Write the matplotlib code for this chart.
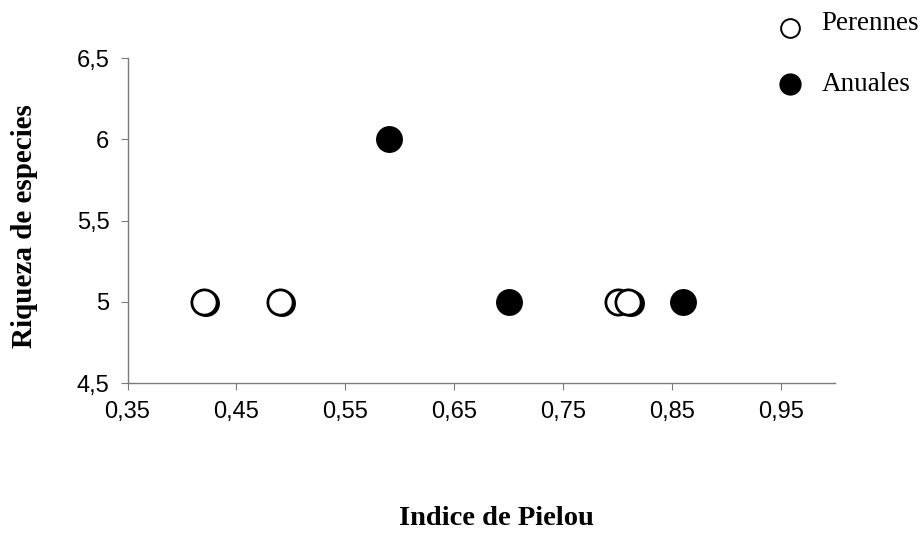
import matplotlib.pyplot as plt

# Pielou evenness vs. species richness, per life form
perennes_x = [0.42, 0.49, 0.80, 0.81]
perennes_y = [5, 5, 5, 5]
anuales_x = [0.422, 0.492, 0.59, 0.70, 0.812, 0.86]
anuales_y = [4.99, 4.99, 6, 5, 4.99, 5]

x_ticks = [0.35, 0.45, 0.55, 0.65, 0.75, 0.85, 0.95]
y_ticks = [4.5, 5, 5.5, 6, 6.5]


def fmt(v):
    s = f"{v:g}"
    return s.replace(".", ",")


fig = plt.figure(figsize=(9.24, 5.33), dpi=100)
ax = fig.add_axes([0.138, 0.2814, 0.766, 0.6096])

ax.scatter(anuales_x, anuales_y, s=330, c="black", edgecolors="black",
           linewidths=1.2, zorder=2)
ax.scatter(perennes_x, perennes_y, s=330, c="white", edgecolors="black",
           linewidths=2.0, zorder=3)

ax.set_xlim(0.35, 1.0)
ax.set_ylim(4.5, 6.5)
ax.set_xticks(x_ticks)
ax.set_yticks(y_ticks)
ax.set_xticklabels([fmt(v) for v in x_ticks], fontsize=17, family="Liberation Sans")
ax.set_yticklabels([fmt(v) for v in y_ticks], fontsize=17, family="Liberation Sans")

for side in ["top", "right"]:
    ax.spines[side].set_visible(False)
for side in ["left", "bottom"]:
    ax.spines[side].set_color("#7a7a7a")
    ax.spines[side].set_linewidth(1.0)
ax.tick_params(axis="both", direction="out", length=5, width=0.8,
               color="#7a7a7a")
ax.tick_params(axis="y", pad=8)
ax.tick_params(axis="x", pad=8)

fig.text(0.027, 0.575, "Riqueza de especies", rotation=90, ha="center",
         va="center", fontsize=21, fontweight="bold", family="Liberation Serif")
fig.text(0.537, 0.015, "Indice de Pielou", ha="center", va="baseline",
         fontsize=20.5, fontweight="bold", family="Liberation Serif")

# legend drawn by hand in figure coordinates
fig.lines.append(plt.Line2D([0.855], [0.947], marker="o", markersize=13.5,
                            markerfacecolor="white", markeredgecolor="black",
                            markeredgewidth=1.4, transform=fig.transFigure))
fig.lines.append(plt.Line2D([0.855], [0.842], marker="o", markersize=15,
                            markerfacecolor="black", markeredgecolor="black",
                            transform=fig.transFigure))
fig.text(0.889, 0.955, "Perennes", ha="left", va="center", fontsize=19.5,
         family="Liberation Serif")
fig.text(0.889, 0.842, "Anuales", ha="left", va="center", fontsize=19.5,
         family="Liberation Serif")

fig.savefig("out.png", dpi=100, facecolor="white")
